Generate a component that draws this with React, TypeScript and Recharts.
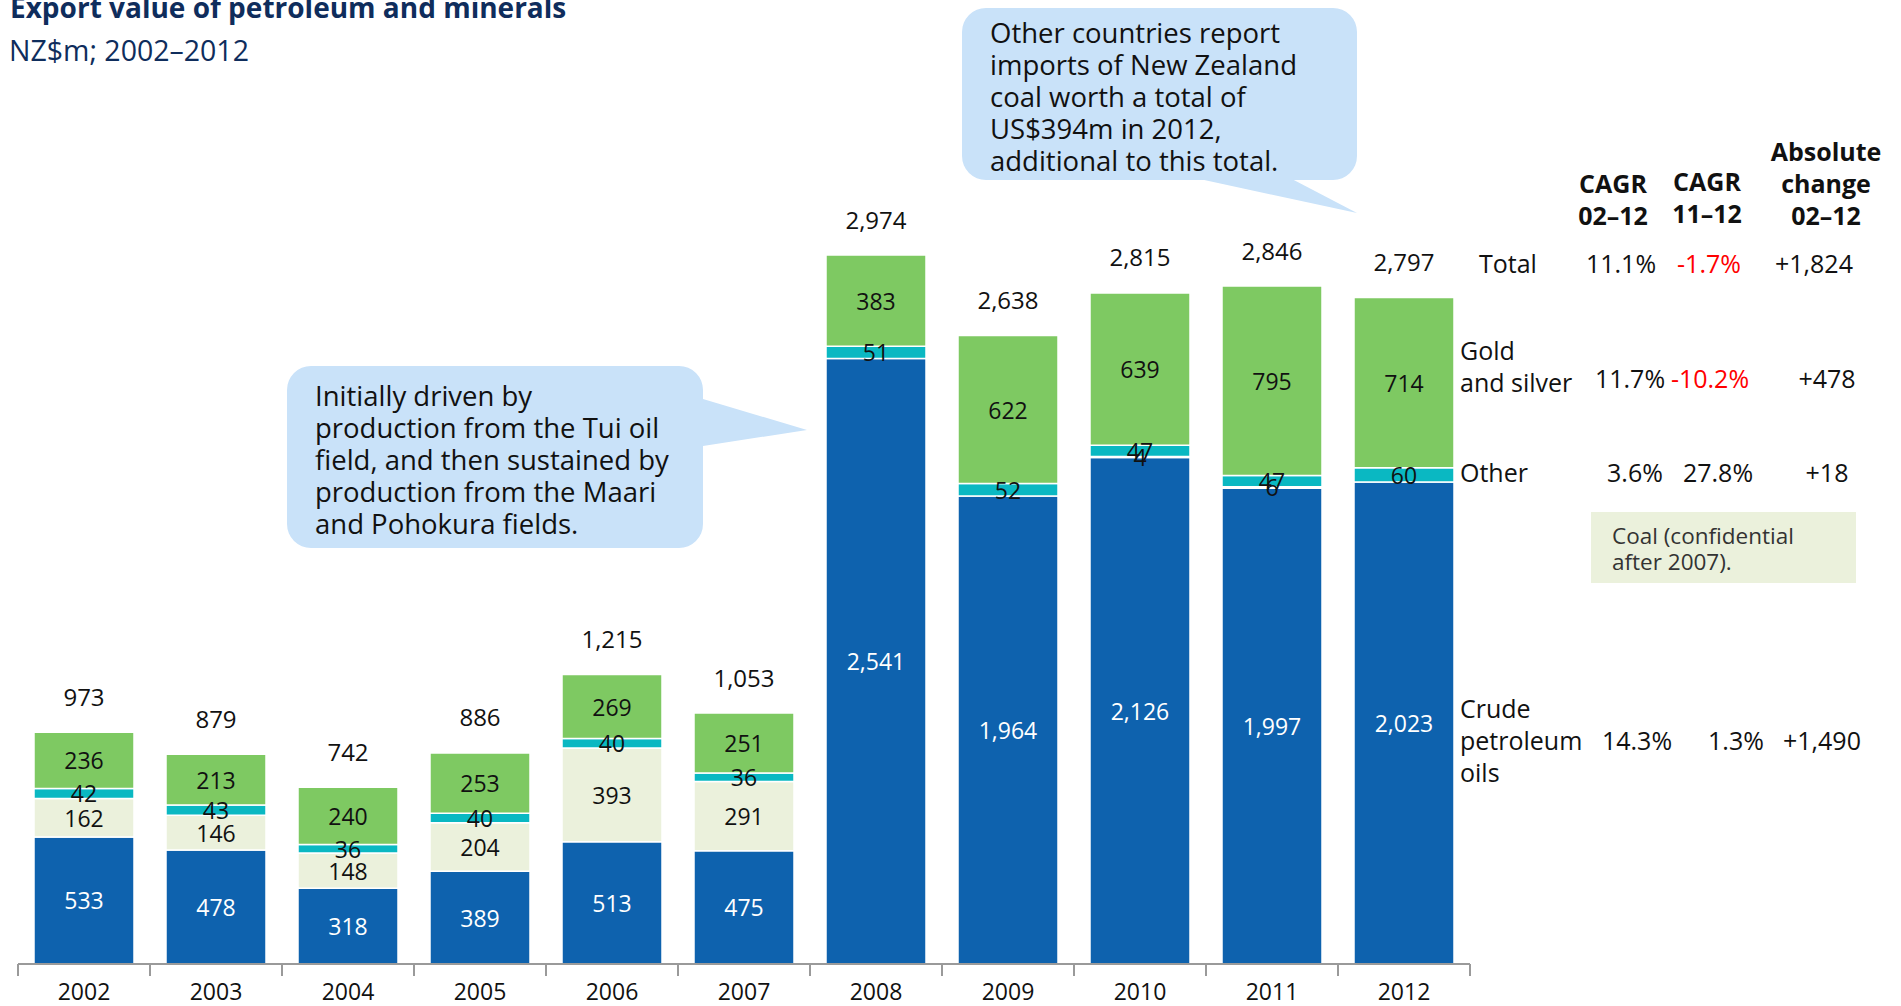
import React from 'react';
import { BarChart, Bar, XAxis, YAxis, LabelList } from 'recharts';

// NZ$m export values, 2002–2012
const years = ['2002', '2003', '2004', '2005', '2006', '2007', '2008', '2009', '2010', '2011', '2012'];
const crude = [533, 478, 318, 389, 513, 475, 2541, 1964, 2126, 1997, 2023];
const coal = [162, 146, 148, 204, 393, 291, 0, 0, 4, 6, 0];
const other = [42, 43, 36, 40, 40, 36, 51, 52, 47, 47, 60];
const gold = [236, 213, 240, 253, 269, 251, 383, 622, 639, 795, 714];
const totals = [973, 879, 742, 886, 1215, 1053, 2974, 2638, 2815, 2846, 2797];

// side table
const rowNames = [['Total'], ['Gold', 'and silver'], ['Other'], ['Crude', 'petroleum', 'oils']];
const cagr0212 = ['11.1%', '11.7%', '3.6%', '14.3%'];
const cagr1112 = ['-1.7%', '-10.2%', '27.8%', '1.3%'];
const absChange = ['+1,824', '+478', '+18', '+1,490'];

const callout1 = [
  'Initially driven by',
  'production from the Tui oil',
  'field, and then sustained by',
  'production from the Maari',
  'and Pohokura fields.',
];
const callout2 = [
  'Other countries report',
  'imports of New Zealand',
  'coal worth a total of',
  'US$394m in 2012,',
  'additional to this total.',
];

const data = years.map((year, i) => ({
  year,
  crude: crude[i],
  coal: coal[i],
  other: other[i],
  gold: gold[i],
  total: totals[i],
}));

const FONT = '"Open Sans", Lato, sans-serif';
const W = 1901;
const H = 1006;
const M = { top: 130, right: 431, bottom: 2, left: 18 };
const XAXIS_H = 40;
const BASE_Y = H - M.bottom - XAXIS_H;
const HALF_BAND = (W - M.left - M.right) / years.length / 2;

const C = {
  crude: '#0e62ae',
  coal: '#ebf1dc',
  other: '#0ab8c2',
  gold: '#7ec962',
  bubble: '#c9e2f9',
  navy: '#0f2d5c',
  axis: '#9a9a9a',
  red: '#ff0000',
};

const fmt = (v: number) => v.toLocaleString('en-US');

const segLabel = (color: string) => (props: any) => {
  const { x, y, width, height, value } = props;
  if (!value) return null;
  return (
    <text
      x={x + width / 2}
      y={y + height / 2}
      textAnchor="middle"
      dominantBaseline="central"
      fill={color}
      fontSize={23}
      fontFamily={FONT}
    >
      {fmt(value)}
    </text>
  );
};

const totalLabel = (props: any) => {
  const { x, y, width, value } = props;
  return (
    <text x={x + width / 2} y={y - 36} textAnchor="middle" dominantBaseline="central" fill="#111" fontSize={24} fontFamily={FONT}>
      {fmt(value)}
    </text>
  );
};

const YearTick = (props: any) => {
  const { x, payload, index } = props;
  return (
    <g>
      <line x1={x - HALF_BAND} x2={x - HALF_BAND} y1={BASE_Y} y2={BASE_Y + 12} stroke={C.axis} strokeWidth={2} />
      {index === years.length - 1 && (
        <line x1={x + HALF_BAND} x2={x + HALF_BAND} y1={BASE_Y} y2={BASE_Y + 12} stroke={C.axis} strokeWidth={2} />
      )}
      <text x={x} y={BASE_Y + 27} textAnchor="middle" dominantBaseline="central" fill="#111" fontSize={23} fontFamily={FONT}>
        {payload.value}
      </text>
    </g>
  );
};

function Bubble({ x, y, w, h, tail, lines, tx, ty }: any) {
  return (
    <g>
      <rect x={x} y={y} width={w} height={h} rx={24} fill={C.bubble} />
      <polygon points={tail} fill={C.bubble} />
      {lines.map((l: string, i: number) => (
        <text key={i} x={tx} y={ty + i * 32} dominantBaseline="central" fontSize={27.5} fill="#111" fontFamily={FONT}>
          {l}
        </text>
      ))}
    </g>
  );
}

// table layout (per row: y, and x centre of each value column)
const rowY = [263, 366, 472, 740];
const valY = [263, 378, 472, 740];
const col1X = [1621, 1630, 1635, 1637];
const col2X = [1709, 1710, 1718, 1736];
const col3X = [1814, 1827, 1827, 1822];

export default function App() {
  return (
    <div style={{ position: 'fixed', left: 0, top: 0, width: W, height: H, background: '#fff' }}>
      <BarChart width={W} height={H} data={data} margin={M} barCategoryGap={16}>
        <XAxis
          dataKey="year"
          height={XAXIS_H}
          axisLine={{ stroke: C.axis, strokeWidth: 2 }}
          tickLine={false}
          tick={<YearTick />}
          interval={0}
        />
        <YAxis hide domain={[0, 3500]} />
        <Bar dataKey="crude" stackId="a" fill={C.crude} stroke="#fff" strokeWidth={1.5} isAnimationActive={false}>
          <LabelList dataKey="crude" content={segLabel('#fff')} />
        </Bar>
        <Bar dataKey="coal" stackId="a" fill={C.coal} stroke="#fff" strokeWidth={1.5} isAnimationActive={false}>
          <LabelList dataKey="coal" content={segLabel('#111')} />
        </Bar>
        <Bar dataKey="other" stackId="a" fill={C.other} stroke="#fff" strokeWidth={1.5} isAnimationActive={false}>
          <LabelList dataKey="other" content={segLabel('#111')} />
        </Bar>
        <Bar dataKey="gold" stackId="a" fill={C.gold} stroke="#fff" strokeWidth={1.5} isAnimationActive={false}>
          <LabelList dataKey="gold" content={segLabel('#111')} />
          <LabelList dataKey="total" content={totalLabel} />
        </Bar>
      </BarChart>

      <svg width={W} height={H} style={{ position: 'absolute', left: 0, top: 0, pointerEvents: 'none' }}>
        <text x={10} y={18} fontSize={28} fontWeight="bold" fill={C.navy} fontFamily={FONT}>
          Export value of petroleum and minerals
        </text>
        <text x={9} y={61} fontSize={28.5} fill={C.navy} fontFamily={FONT}>
          NZ$m; 2002–2012
        </text>

        <Bubble
          x={287} y={366} w={416} h={182}
          tail="703,399 807,430 703,446"
          lines={callout1} tx={315} ty={395}
        />
        <Bubble
          x={962} y={8} w={395} h={172}
          tail="1195,178 1357,213 1290,178"
          lines={callout2} tx={990} ty={32}
        />

        {/* column headers */}
        <g fontFamily={FONT} fontWeight="bold" fontSize={25} fill="#111" textAnchor="middle">
          <text x={1613} y={183} dominantBaseline="central">CAGR</text>
          <text x={1613} y={215} dominantBaseline="central">02–12</text>
          <text x={1707} y={181} dominantBaseline="central">CAGR</text>
          <text x={1707} y={213} dominantBaseline="central">11–12</text>
          <text x={1826} y={151} dominantBaseline="central">Absolute</text>
          <text x={1826} y={183} dominantBaseline="central">change</text>
          <text x={1826} y={215} dominantBaseline="central">02–12</text>
        </g>

        {rowNames.map((lines, r) => (
          <g key={r} fontFamily={FONT} fontSize={25} fill="#111">
            {lines.map((l, j) => (
              <text
                key={j}
                x={r === 0 ? 1479 : 1460}
                y={rowY[r] + (j - (lines.length - 1) / 2) * 32}
                dominantBaseline="central"
              >
                {l}
              </text>
            ))}
            <text x={col1X[r]} y={valY[r]} textAnchor="middle" dominantBaseline="central">
              {cagr0212[r]}
            </text>
            <text
              x={col2X[r]}
              y={valY[r]}
              textAnchor="middle"
              dominantBaseline="central"
              fill={cagr1112[r].startsWith('-') ? C.red : '#111'}
            >
              {cagr1112[r]}
            </text>
            <text x={col3X[r]} y={valY[r]} textAnchor="middle" dominantBaseline="central">
              {absChange[r]}
            </text>
          </g>
        ))}

        <rect x={1591} y={512} width={265} height={71} fill={C.coal} />
        <text x={1612} y={535} fontSize={22.5} fill="#333" fontFamily={FONT} dominantBaseline="central">
          Coal (confidential
        </text>
        <text x={1612} y={561} fontSize={22.5} fill="#333" fontFamily={FONT} dominantBaseline="central">
          after 2007).
        </text>
      </svg>
    </div>
  );
}
